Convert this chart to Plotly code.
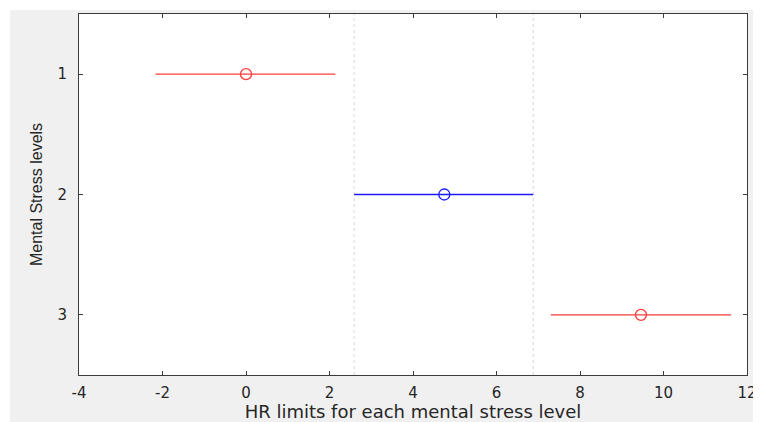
import plotly.graph_objects as go

# Data (MATLAB multcompare-style interval plot)
groups = [1, 2, 3]
means = [0.0, 4.75, 9.46]
lower = [-2.17, 2.59, 7.30]
upper = [2.14, 6.88, 11.62]
colors = ["#ff3b3b", "#1a1aff", "#ff3b3b"]
selected = 1  # index of highlighted group (blue); its limits are drawn as dotted lines
x_ticks = [-4, -2, 0, 2, 4, 6, 8, 10, 12]
y_ticks = [1, 2, 3]

fig = go.Figure()

# gray figure background (offset from top-left) and white axes area
fig.add_shape(type="rect", xref="paper", yref="paper",
              x0=-0.1033, x1=1.03, y0=-0.14, y1=1.011,
              fillcolor="#f0f0f0", line=dict(width=0), layer="below")
fig.add_shape(type="rect", xref="paper", yref="paper",
              x0=0, x1=1, y0=0, y1=1,
              fillcolor="white", line=dict(width=0), layer="below")

# dotted lines at the limits of the selected group
for v in (lower[selected], upper[selected]):
    fig.add_shape(type="line", xref="x", yref="paper", x0=v, x1=v, y0=0, y1=1,
                  line=dict(color="#d6d6d6", width=1, dash="dot"), layer="below")

for g, m, lo, hi, c in zip(groups, means, lower, upper, colors):
    fig.add_trace(go.Scatter(
        x=[lo, hi], y=[g, g], mode="lines",
        line=dict(color=c, width=1.4), showlegend=False, hoverinfo="skip"))
    fig.add_trace(go.Scatter(
        x=[m], y=[g], mode="markers",
        marker=dict(symbol="circle-open", size=11, color=c, line=dict(width=1.3)),
        showlegend=False))

axis_common = dict(
    showgrid=False, zeroline=False, showline=True, linecolor="#3c3c3c", linewidth=1,
    mirror="ticks", ticks="inside", ticklen=4, tickcolor="#3c3c3c", tickwidth=1,
    tickfont=dict(family="DejaVu Sans", size=15, color="#262626"),
    automargin=False,
)

fig.update_xaxes(range=[-4, 12], tickvals=x_ticks, ticktext=[str(t) for t in x_ticks],
                 title=dict(text="HR limits for each mental stress level",
                            font=dict(family="DejaVu Sans", size=18, color="#262626"),
                            standoff=1),
                 ticklabelstandoff=4,
                 **axis_common)
fig.update_yaxes(range=[3.5, 0.5], tickvals=y_ticks, ticktext=[str(t) for t in y_ticks],
                 title=dict(text="Mental Stress levels",
                            font=dict(family="Liberation Sans", size=16, color="#262626"),
                            standoff=10),
                 ticklabelstandoff=8,
                 **axis_common)

fig.update_layout(
    width=753, height=414,
    margin=dict(l=71, r=14, t=6, b=47),
    paper_bgcolor="white", plot_bgcolor="white",
    showlegend=False,
)

fig.write_html("out.html")
